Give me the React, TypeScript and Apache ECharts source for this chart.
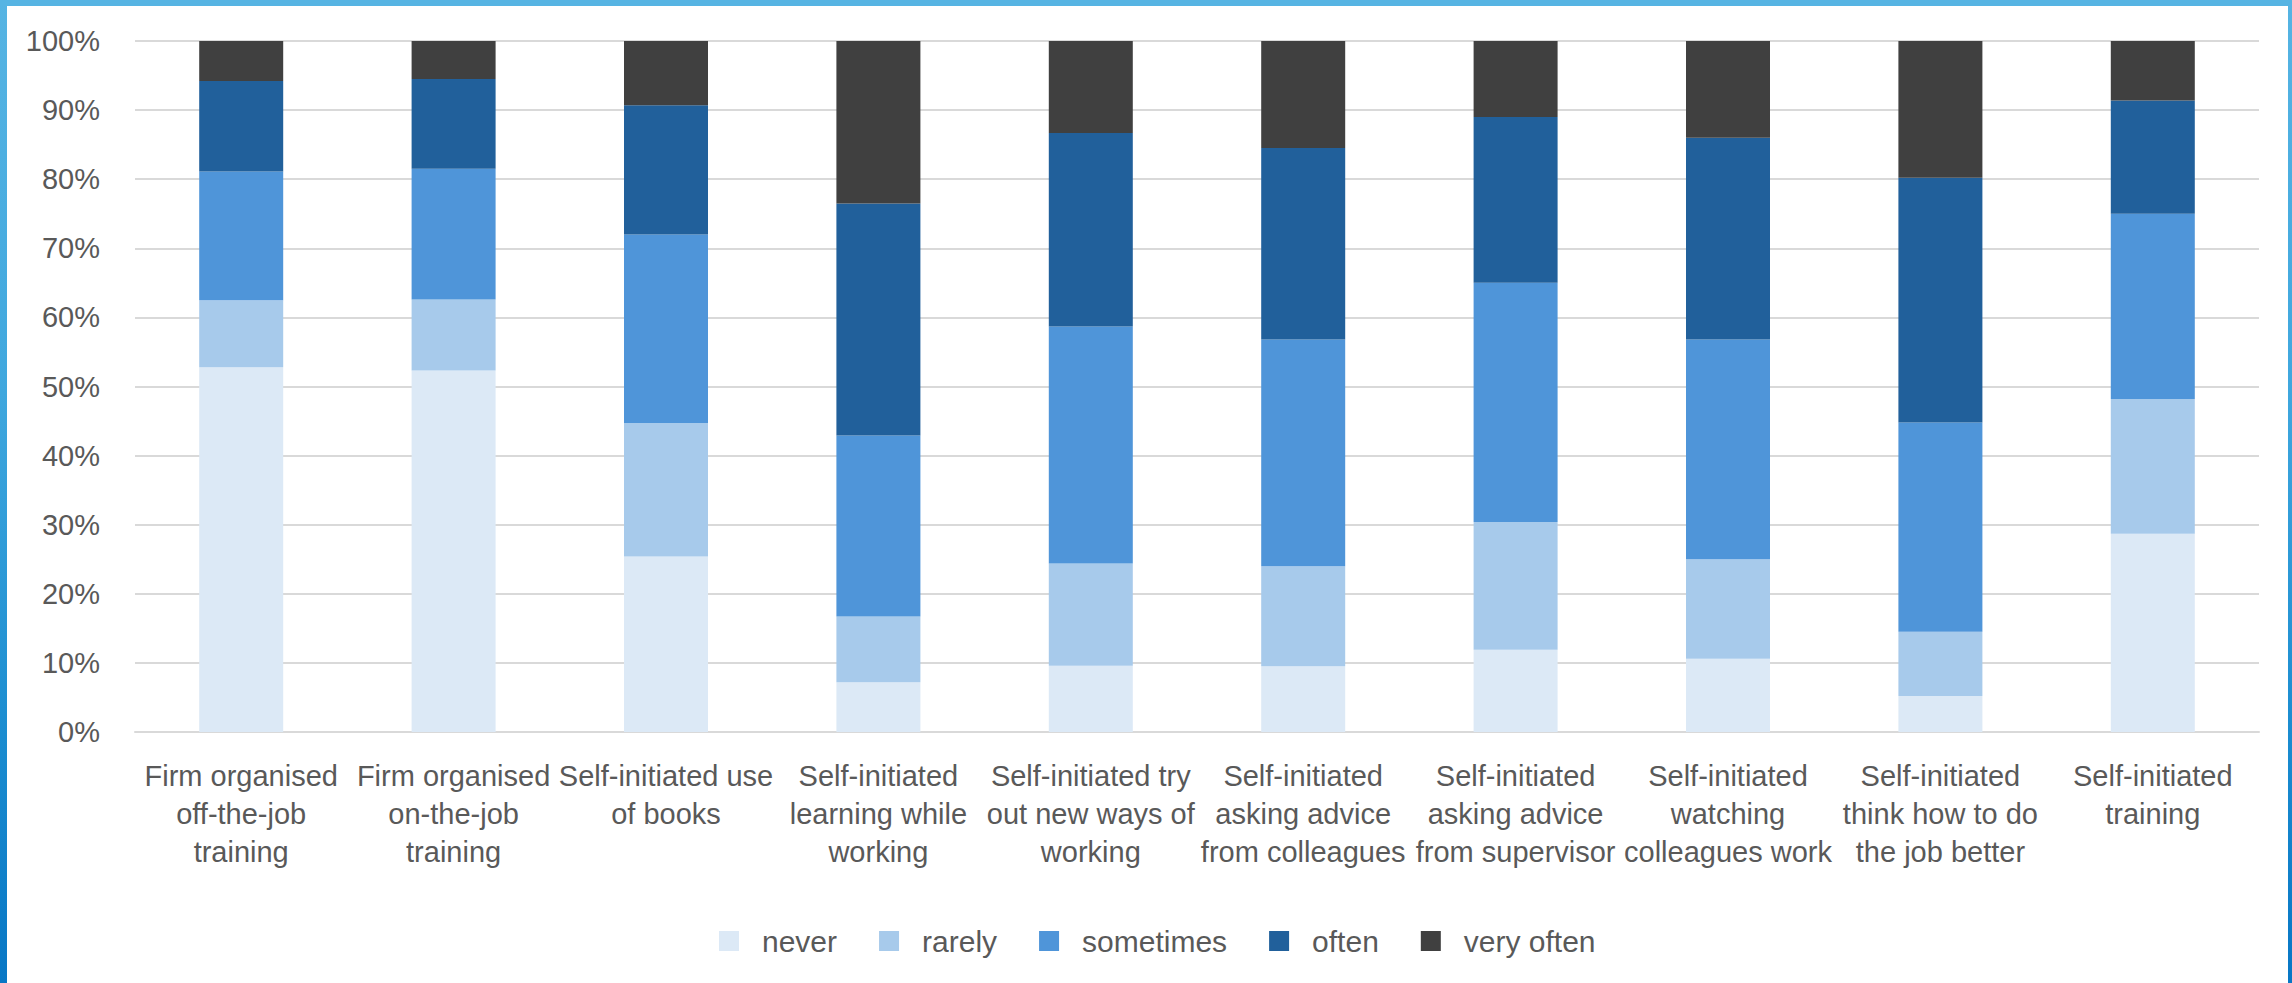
import React, { useEffect, useRef } from "react";
import * as echarts from "echarts";

const categories: string[] = [
  "Firm organised\noff-the-job\ntraining",
  "Firm organised\non-the-job\ntraining",
  "Self-initiated use\nof books",
  "Self-initiated\nlearning while\nworking",
  "Self-initiated try\nout new ways of\nworking",
  "Self-initiated\nasking advice\nfrom colleagues",
  "Self-initiated\nasking advice\nfrom supervisor",
  "Self-initiated\nwatching\ncolleagues work",
  "Self-initiated\nthink how to do\nthe job better",
  "Self-initiated\ntraining",
];

const never: number[] = [52.8, 52.3, 25.4, 7.2, 9.6, 9.5, 11.9, 10.6, 5.2, 28.7];
const rarely: number[] = [9.7, 10.3, 19.3, 9.5, 14.8, 14.5, 18.5, 14.4, 9.3, 19.5];
const sometimes: number[] = [18.6, 18.9, 27.3, 26.2, 34.3, 32.8, 34.6, 31.8, 30.3, 26.8];
const often: number[] = [13.1, 13.0, 18.7, 33.6, 28.0, 27.7, 24.0, 29.2, 35.4, 16.4];
const veryOften: number[] = [5.8, 5.5, 9.3, 23.5, 13.3, 15.5, 11.0, 14.0, 19.8, 8.6];

const seriesNames: string[] = ["never", "rarely", "sometimes", "often", "very often"];
const seriesColors: string[] = ["#DCE9F6", "#A7CAEB", "#4F95D9", "#21609B", "#404040"];

const FONT = '"Liberation Sans", Arial, Helvetica, sans-serif';
const TEXT_COLOR = "#595959";

export default function App() {
  const ref = useRef<HTMLDivElement>(null);

  useEffect(() => {
    if (!ref.current) return;
    const chart = echarts.init(ref.current, undefined, { renderer: "svg" });
    const dataSets = [never, rarely, sometimes, often, veryOften];
    chart.setOption({
      animation: false,
      backgroundColor: "#ffffff",
      textStyle: { fontFamily: FONT },
      grid: { left: 135, right: 33, top: 41, bottom: 251, containLabel: false },
      legend: {
        left: 719,
        top: 926,
        padding: 0,
        itemWidth: 20,
        itemHeight: 20,
        itemGap: 42,
        icon: "rect",
        data: seriesNames,
        textStyle: {
          fontFamily: FONT,
          fontSize: 30,
          color: TEXT_COLOR,
          padding: [0, 0, 0, 18],
        },
      },
      xAxis: {
        type: "category",
        data: categories,
        axisLine: { show: true, lineStyle: { color: "#D9D9D9", width: 2 } },
        axisTick: { show: false },
        axisLabel: {
          interval: 0,
          margin: 25,
          fontFamily: FONT,
          fontSize: 29,
          lineHeight: 38,
          color: TEXT_COLOR,
          align: "center",
        },
      },
      yAxis: {
        type: "value",
        min: 0,
        max: 100,
        interval: 10,
        axisLine: { show: false },
        axisTick: { show: false },
        splitLine: { show: true, lineStyle: { color: "#D9D9D9", width: 2 } },
        axisLabel: {
          formatter: "{value}%",
          margin: 35,
          fontFamily: FONT,
          fontSize: 29,
          color: TEXT_COLOR,
        },
      },
      series: seriesNames.map((name, i) => ({
        name,
        type: "bar",
        stack: "total",
        barWidth: 84,
        data: dataSets[i],
        itemStyle: { color: seriesColors[i] },
        emphasis: { disabled: true },
      })),
    });
    return () => {
      chart.dispose();
    };
  }, []);

  const borderGrad = "linear-gradient(to bottom, #56B4E3 0%, #3FA7DE 40%, #1A8CD0 75%, #0877C5 100%)";

  return (
    <div
      style={{
        position: "fixed",
        left: 0,
        top: 0,
        width: 2292,
        height: 983,
        background: "#ffffff",
        overflow: "hidden",
      }}
    >
      <div ref={ref} style={{ position: "absolute", left: 0, top: 0, width: 2292, height: 983 }} />
      <div style={{ position: "absolute", left: 0, top: 0, width: 7, height: 983, background: borderGrad, pointerEvents: "none" }} />
      <div style={{ position: "absolute", right: 0, top: 0, width: 4, height: 983, background: borderGrad, pointerEvents: "none" }} />
      <div style={{ position: "absolute", left: 0, top: 0, width: 2292, height: 6, background: "#56B4E3", pointerEvents: "none" }} />
    </div>
  );
}
